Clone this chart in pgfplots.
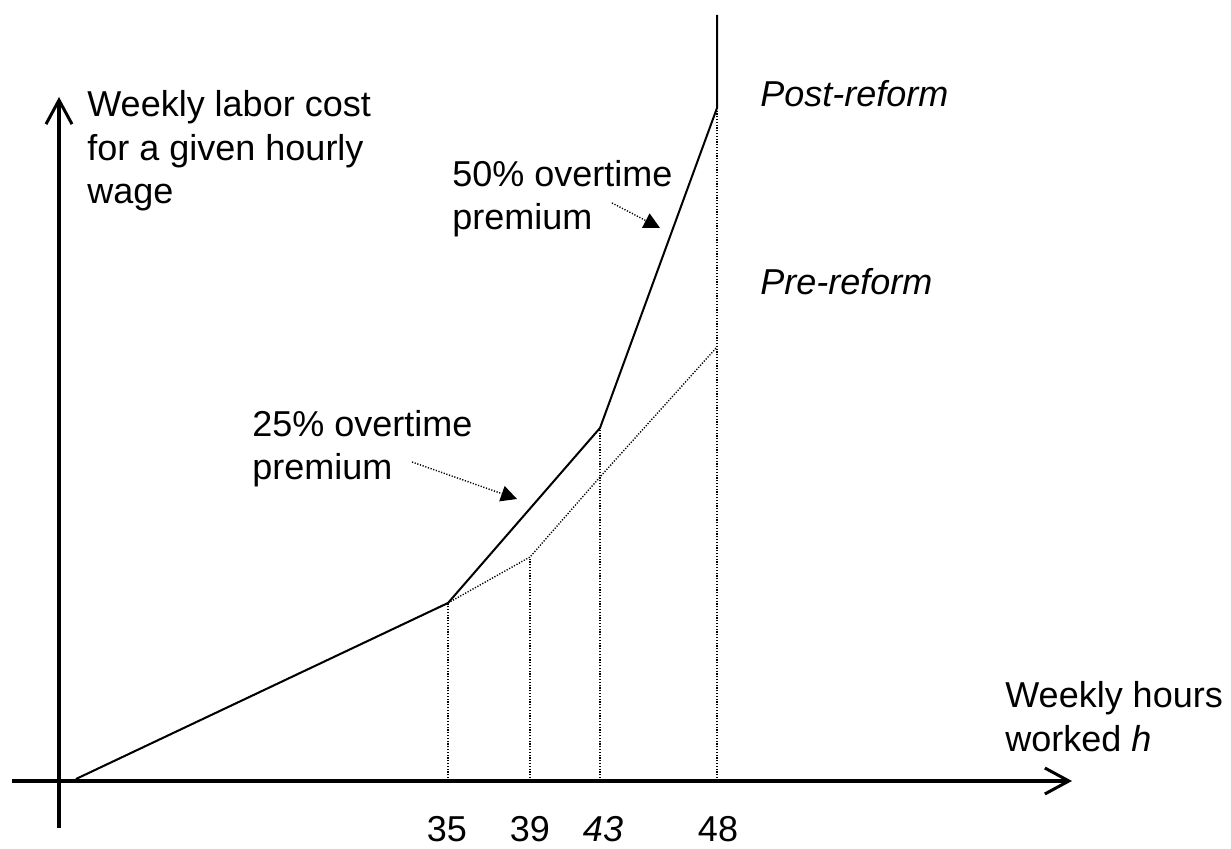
\documentclass[border=0pt]{standalone}
\usepackage{pgfplots}
\pgfplotsset{compat=1.18}
\usepackage{fontspec}
\setmainfont{Liberation Sans}
\usetikzlibrary{arrows.meta}
\newcommand{\lbl}{\fontsize{18}{21.5}\selectfont}
\begin{document}
\begin{tikzpicture}
\begin{axis}[
  x=0.5pt, y=0.5pt,
  xmin=-47, xmax=1013, ymin=-47, ymax=684,
  axis lines=middle,
  axis line style={line width=2pt},
  inner axis line style={-{Straight Barb[length=12pt,width=13pt,line width=1.5pt]}},
  xtick={388,471,544,659},
  xticklabels={35,39,\textit{43},48},
  ytick=\empty,
  major tick length=0pt,
  xticklabel style={anchor=base, yshift=-30.5pt, inner sep=0pt, font=\lbl},
  clip=false,
  /pgf/number format/assume math mode=true,
]
% dotted pre-reform
\addplot[black, line width=0.7pt, dash pattern=on 0.6pt off 0.8pt] coordinates {(17,2) (389,178) (471,224) (541,304) (658,434)};
% vertical guides
\addplot[black, line width=0.7pt, dash pattern=on 0.6pt off 0.8pt] coordinates {(389,0) (389,178)};
\addplot[black, line width=0.7pt, dash pattern=on 0.6pt off 0.8pt] coordinates {(471,0) (471,224)};
\addplot[black, line width=0.7pt, dash pattern=on 0.6pt off 0.8pt] coordinates {(541,0) (541,353)};
\addplot[black, line width=0.7pt, dash pattern=on 0.6pt off 0.8pt] coordinates {(658,0) (658,673)};
% solid post-reform
\addplot[black, line width=1pt] coordinates {(17,2) (389,178) (541,353) (658,673) (658,766)};
% annotation arrows
\draw[black, line width=0.7pt, dash pattern=on 0.6pt off 0.8pt, -{Triangle[length=8pt,width=8pt]}] (axis cs:353,319) -- (axis cs:458,282);
\draw[black, line width=0.7pt, dash pattern=on 0.6pt off 0.8pt, -{Triangle[length=8pt,width=8pt]}] (axis cs:553,578) -- (axis cs:601,553);
% texts
\tikzset{t/.style={anchor=base west, inner sep=0pt, font=\lbl}}
\node[t] at (axis cs:28,664) {Weekly labor cost};
\node[t] at (axis cs:28,620.5) {for a given hourly};
\node[t] at (axis cs:28,577) {wage};
\node[t] at (axis cs:701,674) {\textit{Post-reform}};
\node[t] at (axis cs:701,486) {\textit{Pre-reform}};
\node[t] at (axis cs:393,594) {50\% overtime};
\node[t] at (axis cs:393,551) {premium};
\node[t] at (axis cs:193,344) {25\% overtime};
\node[t] at (axis cs:193,301) {premium};
\node[t] at (axis cs:946,73) {Weekly hours};
\node[t] at (axis cs:946,29) {worked \textit{h}};
\path (axis cs:-59,-68) rectangle (axis cs:1172,781);
\end{axis}
\end{tikzpicture}
\end{document}
